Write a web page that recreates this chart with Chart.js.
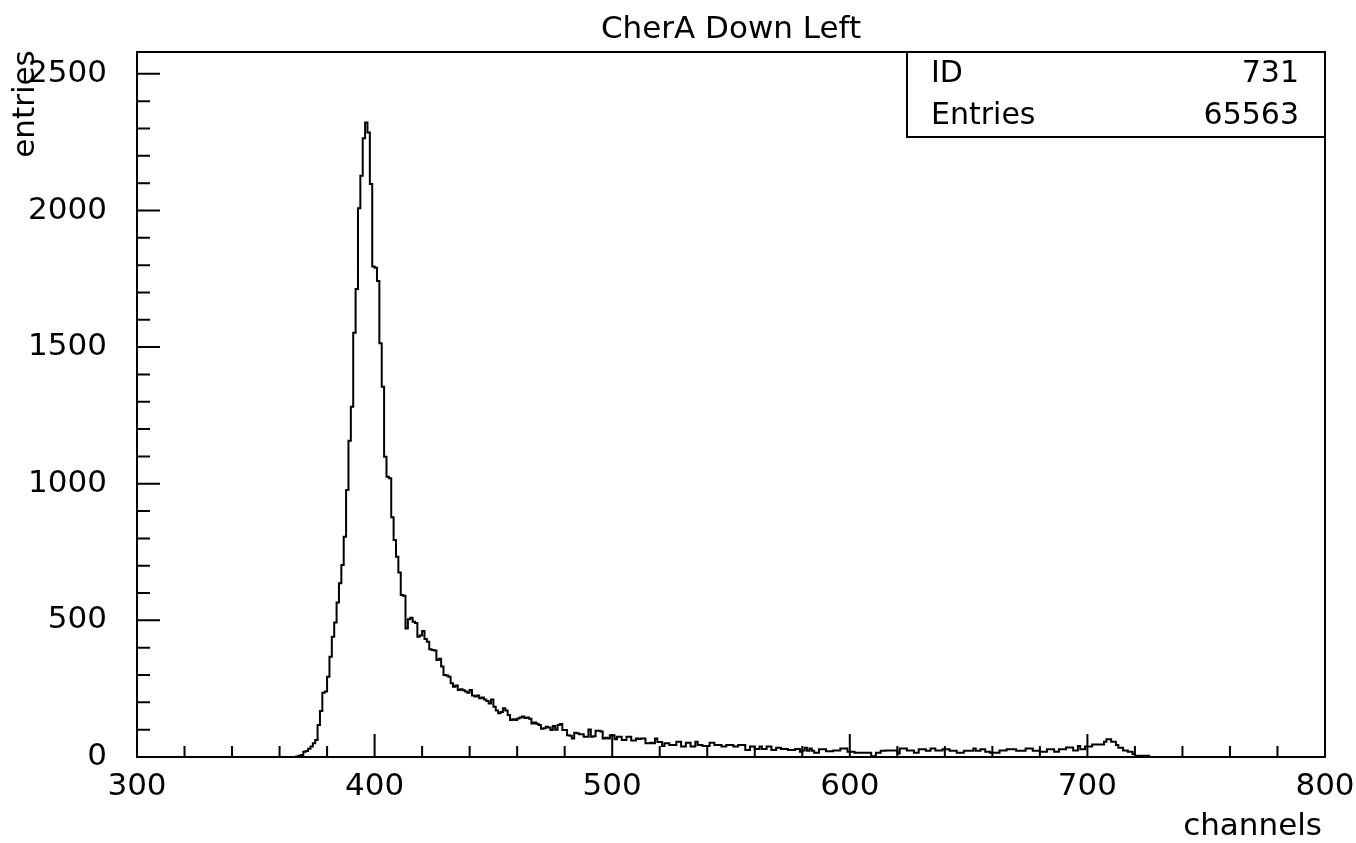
<!DOCTYPE html>
<html><head><meta charset="utf-8">
<script src="https://cdn.jsdelivr.net/npm/chart.js@4.4.1/dist/chart.umd.min.js"></script>
<style>html,body{margin:0;padding:0;background:#fff;}#wrap{width:1356px;height:843px;}</style>
</head><body><div id="wrap"><canvas id="c" width="1356" height="843"></canvas></div>
<script>
const chartTitle = "CherA Down Left";
const xAxisLabel = "channels";
const yAxisLabel = "entries";
const statsLabels = ["ID", "Entries"];
const statsValues = ["731", "65563"];
const xRange = [300, 800];
const yRange = [0, 2580];
const yTickTop = 2500;
const xMajorStep = 100, xMinorStep = 20;
const yMajorStep = 500, yMinorStep = 100;
const binWidth = 1;
const firstBin = 366;
const binCounts = [
  0,2,5,7,19,22,30,38,50,62,
  117,168,235,240,294,367,440,492,565,636,
  703,806,977,1157,1282,1553,1713,2008,2127,2264,
  2322,2285,2097,1795,1790,1742,1514,1355,1099,1026,
  1020,877,794,733,675,593,590,470,504,510,
  495,490,440,445,461,432,422,394,392,390,
  355,360,331,300,298,294,270,257,262,245,
  248,244,240,235,245,225,221,225,215,218,
  210,205,196,210,184,170,160,165,178,170,
  154,135,138,135,141,145,148,143,145,140,
  123,126,122,117,103,105,111,108,99,113,
  100,117,121,99,99,80,78,68,89,87,
  83,83,74,74,101,74,76,96,96,93,
  68,70,68,80,80,65,74,74,62,62,
  74,74,60,60,68,66,68,68,50,50,
  52,50,68,55,55,40,50,50,44,44,
  44,56,56,38,38,52,52,38,38,56,
  44,44,40,40,40,52,52,44,44,44,
  38,38,44,44,44,38,38,44,44,44,
  26,26,38,38,29,29,38,29,29,38,
  38,26,26,34,34,29,29,29,26,26,
  26,29,29,19,24,34,23,31,23,16,
  16,28,28,28,21,21,21,24,24,24,
  31,31,31,19,19,19,16,16,16,16,
  16,16,16,3,3,16,16,23,23,24,
  24,24,24,24,13,31,31,31,24,24,
  24,16,16,28,28,28,23,23,31,31,
  24,24,24,28,28,28,23,23,23,16,
  16,16,23,23,23,23,31,23,23,28,
  28,19,19,16,16,16,16,24,24,24,
  28,28,28,28,23,23,23,23,31,31,
  31,23,23,23,19,19,19,28,28,28,
  19,19,28,28,28,35,35,35,24,24,
  40,28,28,38,38,38,46,46,46,46,
  46,56,65,65,56,56,44,34,34,24,
  24,19,19,11,5,5,5,5,5,5,
  0
];

const FONT = '"DejaVu Sans", sans-serif';
const FSIZE = 31;
const SSIZE = 30;

// Step points: value of bin i holds from its left edge to the next edge
const points = binCounts.map((v, i) => ({ x: firstBin + i * binWidth, y: v }));
points.push({ x: firstBin + binCounts.length * binWidth, y: 0 });

const framePlugin = {
  id: 'frame',
  afterDraw(chart) {
    const ctx = chart.ctx, a = chart.chartArea;
    const xs = chart.scales.x, ys = chart.scales.y;
    ctx.save();
    ctx.strokeStyle = '#000';
    ctx.lineWidth = 2;
    ctx.strokeRect(a.left, a.top, a.right - a.left, a.bottom - a.top);
    ctx.beginPath();
    xs.ticks.forEach(t => {
      if (t.value % xMinorStep !== 0) return;
      const px = xs.getPixelForValue(t.value);
      const len = t.value % xMajorStep === 0 ? 23 : 11;
      ctx.moveTo(px, a.bottom); ctx.lineTo(px, a.bottom - len);
    });
    ys.ticks.forEach(t => {
      if (t.value % yMinorStep !== 0) return;
      const py = ys.getPixelForValue(t.value);
      const len = t.value % yMajorStep === 0 ? 23 : 13;
      ctx.moveTo(a.left, py); ctx.lineTo(a.left + len, py);
    });
    ctx.stroke();

    ctx.fillStyle = '#000';
    ctx.font = FSIZE + 'px ' + FONT;
    ctx.textBaseline = 'middle';
    ctx.textAlign = 'center';
    ctx.fillText(chartTitle, (a.left + a.right) / 2, 30);

    ctx.textAlign = 'right';
    ctx.fillText(xAxisLabel, a.right - 3, 827);

    ctx.save();
    ctx.translate(26, 104);
    ctx.rotate(-Math.PI / 2);
    ctx.textAlign = 'center';
    ctx.fillText(yAxisLabel, 0, 0);
    ctx.restore();

    // stats box
    const bx = 907, by = a.top, bw = a.right - 907, bh = 85;
    ctx.fillStyle = '#fff';
    ctx.fillRect(bx, by, bw, bh);
    ctx.strokeRect(bx, by, bw, bh);
    ctx.fillStyle = '#000';
    ctx.font = SSIZE + 'px ' + FONT;
    const rowsY = [74, 116];
    statsLabels.forEach((lab, i) => {
      ctx.textAlign = 'left';
      ctx.fillText(lab, 931, rowsY[i]);
      ctx.textAlign = 'right';
      ctx.fillText(statsValues[i], 1299, rowsY[i]);
    });
    ctx.restore();
  }
};

new Chart(document.getElementById('c'), {
  type: 'line',
  data: {
    datasets: [{
      data: points,
      stepped: 'before',
      borderColor: '#000',
      borderWidth: 2,
      pointRadius: 0,
      fill: false,
      tension: 0
    }]
  },
  options: {
    responsive: false,
    animation: false,
    devicePixelRatio: 1,
    layout: { padding: { top: 52, right: 31, left: 0, bottom: 0 } },
    plugins: { legend: { display: false }, title: { display: false }, tooltip: { enabled: false } },
    scales: {
      x: {
        type: 'linear', min: xRange[0], max: xRange[1],
        afterFit: s => { s.height = 86; s.paddingLeft = 0; s.paddingRight = 0; },
        grid: { display: false, drawTicks: false },
        border: { display: false },
        ticks: {
          stepSize: xMinorStep, autoSkip: false, maxRotation: 0, minRotation: 0,
          padding: 11, color: '#000', font: { family: FONT, size: FSIZE },
          callback: v => (v % xMajorStep === 0 ? String(v) : '')
        }
      },
      y: {
        type: 'linear', min: yRange[0], max: yRange[1],
        afterBuildTicks: s => {
          const t = [];
          for (let v = yRange[0]; v <= yTickTop; v += yMinorStep) t.push({ value: v });
          s.ticks = t;
        },
        afterFit: s => { s.width = 137; s.paddingTop = 0; s.paddingBottom = 0; },
        grid: { display: false, drawTicks: false },
        border: { display: false },
        ticks: {
          autoSkip: false, padding: 30, color: '#000',
          font: { family: FONT, size: FSIZE },
          callback: v => (v % yMajorStep === 0 ? String(v) : '')
        }
      }
    }
  },
  plugins: [framePlugin]
});
</script>
</body></html>
